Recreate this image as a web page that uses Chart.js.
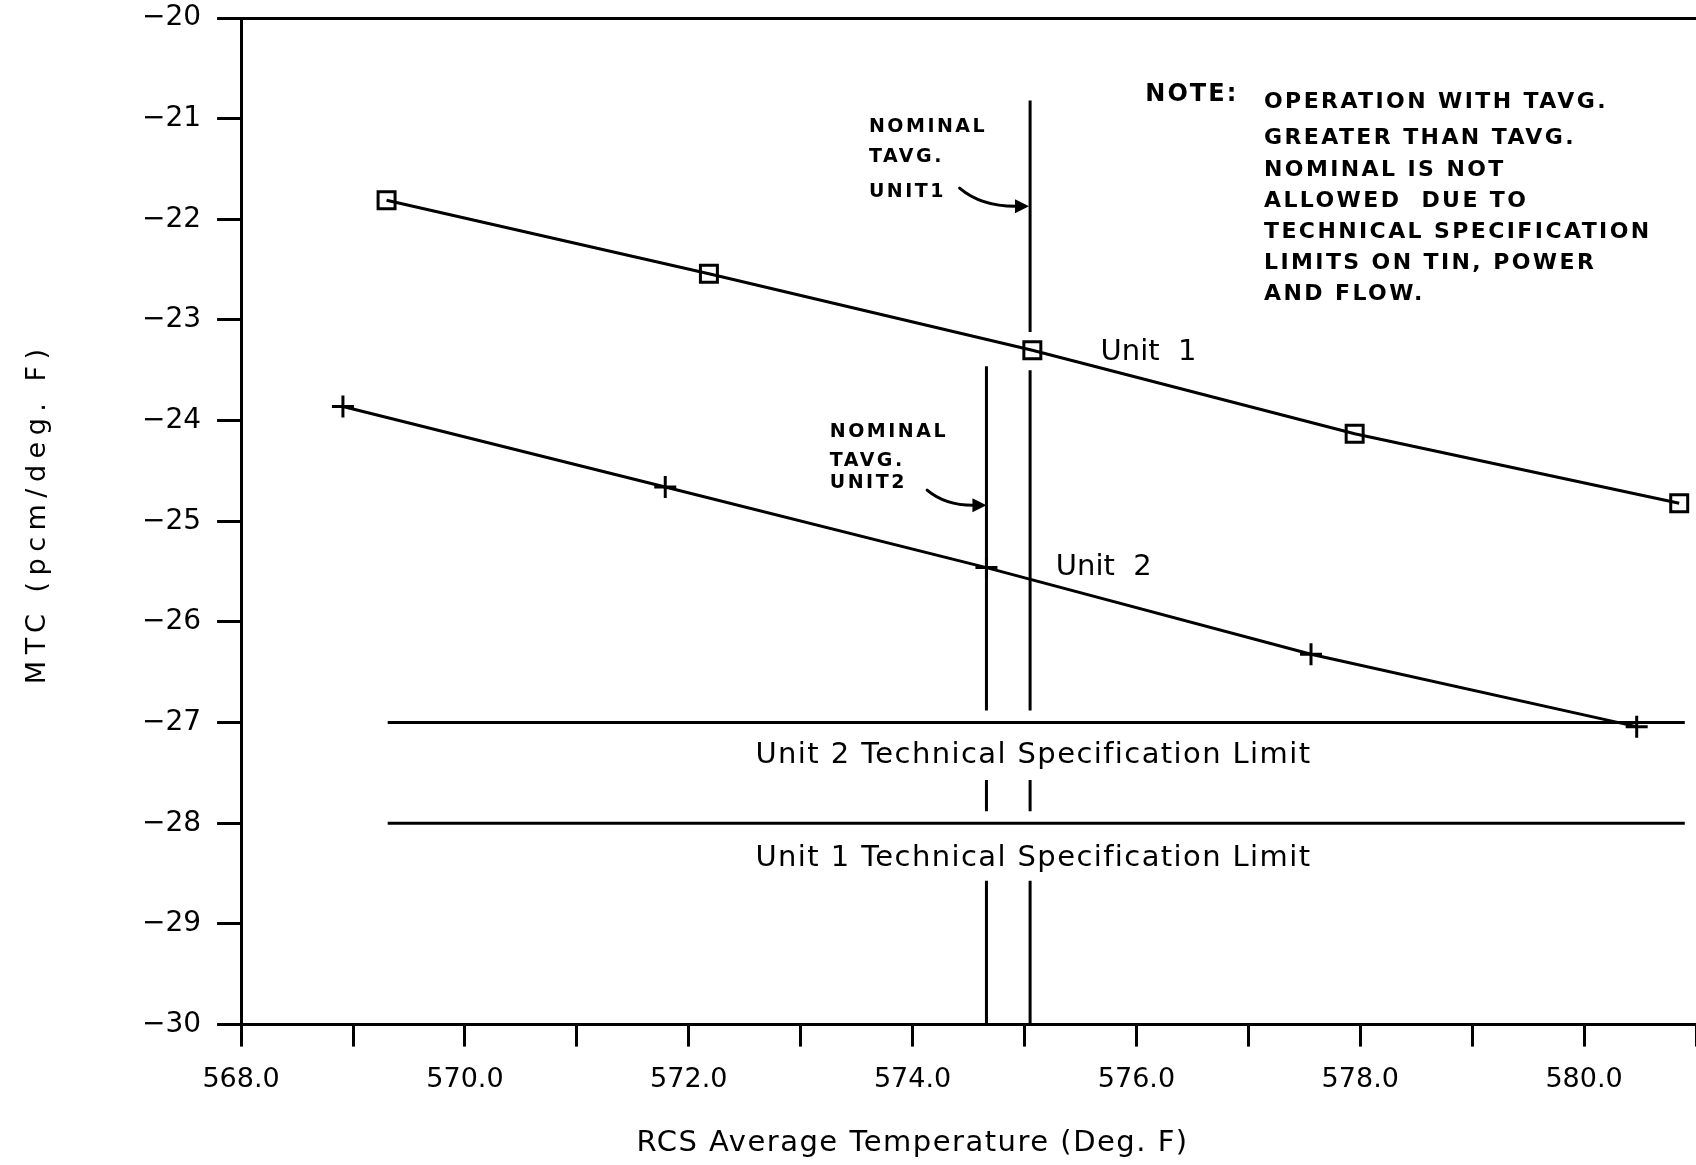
<!DOCTYPE html>
<html>
<head>
<meta charset="utf-8">
<title>MTC vs RCS Average Temperature</title>
<script src="https://cdn.jsdelivr.net/npm/chart.js@4.4.1/dist/chart.umd.min.js"></script>
<style>
  html, body { margin: 0; padding: 0; background: #fff; overflow: hidden; }
  #wrap { width: 1696px; height: 1165px; }
  canvas { display: block; }
</style>
</head>
<body>
<div id="wrap"><canvas id="mtc"></canvas></div>
<script>
// ========== DATA ==========
const unit1Temps = [569.30, 572.18, 575.07, 577.95, 580.85];
const unit1Mtc = [-21.81, -22.54, -23.30, -24.13, -24.82];
const unit2Temps = [568.91, 571.79, 574.66, 577.56, 580.47];
const unit2Mtc = [-23.86, -24.66, -25.46, -26.32, -27.04];

// technical specification limits (horizontal lines)
const limitTemps = [569.31, 580.90];
const unit2Limit = -27;
const unit1Limit = -28;

// nominal Tavg verticals, drawn in pieces (gaps around marker and text)
const nominalTavg1 = 575.05;
const nominalTavg2 = 574.66;
const tavg1Segments = [[-20.82, -23.12], [-23.50, -26.88], [-27.57, -27.88], [-28.57, -30]];
const tavg2Segments = [[-23.46, -26.88], [-27.57, -27.88], [-28.57, -30]];

const xMin = 568, xMax = 581;
const yMin = -30, yMax = -20;
const xLabelled = [568, 570, 572, 574, 576, 578, 580];

const xTitle = 'RCS Average Temperature (Deg. F)';
const yTitle = 'MTC (pcm/deg. F)';

// text placed in data coordinates
const curveLabels = [
  { text: 'Unit  1', x: 575.68, y: -23.32 },
  { text: 'Unit  2', x: 575.28, y: -25.46 }
];
const limitLabels = [
  { text: 'Unit 2 Technical Specification Limit', x: 575.08, y: -27.33 },
  { text: 'Unit 1 Technical Specification Limit', x: 575.08, y: -28.35 }
];
const handNotes = [
  { lines: ['NOMINAL', 'TAVG.', 'UNIT1'], x: 573.61, y: [-21.08, -21.38, -21.73] },
  { lines: ['NOMINAL', 'TAVG.', 'UNIT2'], x: 573.26, y: [-24.11, -24.40, -24.62] }
];
const arrows = [
  { from: [574.42, -21.69], ctrl: [574.62, -21.88], to: [575.04, -21.87] },
  { from: [574.13, -24.69], ctrl: [574.30, -24.85], to: [574.66, -24.84] }
];
const noteHead = { text: 'NOTE:', x: 576.08, y: -20.76 };
const noteLines = [
  'OPERATION WITH TAVG.',
  'GREATER THAN TAVG.',
  'NOMINAL IS NOT',
  'ALLOWED  DUE TO',
  'TECHNICAL SPECIFICATION',
  'LIMITS ON TIN, POWER',
  'AND FLOW.'
];
const noteX = 577.14;
const noteY = [-20.84, -21.19, -21.51, -21.82, -22.13, -22.44, -22.74];

// ========== HELPERS ==========
function pairs(xs, ys) {
  return xs.map((x, i) => ({ x: x, y: ys[i] }));
}

function segmentsAt(x, segs) {
  const out = [];
  segs.forEach(s => {
    out.push({ x: x, y: s[0] }, { x: x, y: s[1] }, { x: x, y: null });
  });
  return out;
}

function lineSet(data) {
  return {
    data: data,
    borderColor: '#000',
    borderWidth: 3,
    pointRadius: 0,
    tension: 0,
    spanGaps: false
  };
}

// ========== TEXT PLUGIN ==========
const annotate = {
  id: 'annotate',
  afterDatasetsDraw(chart) {
    const { ctx, scales: { x, y } } = chart;
    const px = v => x.getPixelForValue(v);
    const py = v => y.getPixelForValue(v);
    ctx.save();
    ctx.fillStyle = '#000';
    ctx.strokeStyle = '#000';
    ctx.textBaseline = 'middle';

    ctx.font = "29px 'DejaVu Sans'";
    ctx.letterSpacing = '0px';
    ctx.textAlign = 'left';
    curveLabels.forEach(l => ctx.fillText(l.text, px(l.x), py(l.y)));
    ctx.letterSpacing = '1.4px';
    ctx.textAlign = 'center';
    limitLabels.forEach(l => ctx.fillText(l.text, px(l.x), py(l.y)));

    // handwritten bits
    ctx.textAlign = 'left';
    ctx.font = "bold 19px 'DejaVu Sans'";
    ctx.letterSpacing = '2.5px';
    handNotes.forEach(n => {
      n.lines.forEach((t, i) => ctx.fillText(t, px(n.x), py(n.y[i])));
    });

    ctx.lineWidth = 3;
    ctx.lineCap = 'round';
    arrows.forEach(a => {
      const fx = px(a.from[0]), fy = py(a.from[1]);
      const cx = px(a.ctrl[0]), cy = py(a.ctrl[1]);
      const tx = px(a.to[0]), ty = py(a.to[1]);
      ctx.beginPath();
      ctx.moveTo(fx, fy);
      ctx.quadraticCurveTo(cx, cy, tx - 10, ty);
      ctx.stroke();
      ctx.beginPath();
      ctx.moveTo(tx, ty);
      ctx.lineTo(tx - 14, ty - 7);
      ctx.lineTo(tx - 14, ty + 7);
      ctx.closePath();
      ctx.fill();
    });

    ctx.font = "bold 24px 'DejaVu Sans'";
    ctx.letterSpacing = '2px';
    ctx.fillText(noteHead.text, px(noteHead.x), py(noteHead.y));
    ctx.font = "bold 22px 'DejaVu Sans'";
    ctx.letterSpacing = '2.4px';
    noteLines.forEach((t, i) => ctx.fillText(t, px(noteX), py(noteY[i])));

    // axis titles
    ctx.font = "29px 'DejaVu Sans'";
    ctx.letterSpacing = '1.5px';
    ctx.textAlign = 'center';
    ctx.fillText(xTitle, px((xLabelled[0] + xLabelled[xLabelled.length - 1]) / 2), x.bottom + 30);

    ctx.font = "27px 'DejaVu Sans'";
    ctx.letterSpacing = '6.5px';
    ctx.translate(y.left - 88, (chart.chartArea.top + chart.chartArea.bottom) / 2 - 8);
    ctx.rotate(-Math.PI / 2);
    ctx.fillText(yTitle, 0, 0);
    ctx.restore();
  }
};

// ========== CHART ==========
Chart.defaults.font.family = "'DejaVu Sans', sans-serif";
Chart.defaults.color = '#000';

new Chart(document.getElementById('mtc'), {
  type: 'line',
  data: {
    datasets: [
      {
        label: 'Unit 1',
        data: pairs(unit1Temps, unit1Mtc),
        borderColor: '#000',
        borderWidth: 3,
        tension: 0,
        pointStyle: 'rect',
        pointRadius: 12,
        pointBorderWidth: 3,
        pointBorderColor: '#000',
        pointBackgroundColor: 'rgba(0,0,0,0)'
      },
      {
        label: 'Unit 2',
        data: pairs(unit2Temps, unit2Mtc),
        borderColor: '#000',
        borderWidth: 3,
        tension: 0,
        pointStyle: 'cross',
        pointRadius: 11,
        pointBorderWidth: 3,
        pointBorderColor: '#000'
      },
      lineSet(pairs(limitTemps, [unit2Limit, unit2Limit])),
      lineSet(pairs(limitTemps, [unit1Limit, unit1Limit])),
      lineSet(segmentsAt(nominalTavg1, tavg1Segments)),
      lineSet(segmentsAt(nominalTavg2, tavg2Segments))
    ]
  },
  options: {
    responsive: true,
    maintainAspectRatio: false,
    animation: false,
    layout: { autoPadding: false, padding: { left: 126, right: 0, top: 18, bottom: 52 } },
    plugins: {
      legend: { display: false },
      tooltip: { enabled: false }
    },
    scales: {
      x: {
        type: 'linear',
        min: xMin,
        max: xMax,
        afterFit: s => { s.paddingRight = 0; },
        border: { color: '#000', width: 3 },
        grid: { drawOnChartArea: false, tickLength: 22, tickWidth: 3, tickColor: '#000' },
        ticks: {
          stepSize: 1,
          autoSkip: false,
          maxRotation: 0,
          padding: 17,
          font: { size: 27 },
          callback: v => xLabelled.includes(v) ? v.toFixed(1) : ''
        }
      },
      y: {
        type: 'linear',
        min: yMin,
        max: yMax,
        afterFit: s => { s.paddingTop = 0; s.paddingBottom = 0; },
        border: { color: '#000', width: 3 },
        grid: {
          color: c => (c.tick && c.tick.value === yMax) ? '#000' : 'rgba(0,0,0,0)',
          lineWidth: 3,
          tickLength: 24,
          tickWidth: 3,
          tickColor: '#000'
        },
        ticks: {
          stepSize: 1,
          padding: 16,
          font: { size: 28 },
          callback: v => '\u2212' + Math.abs(v)
        }
      }
    }
  },
  plugins: [annotate]
});
</script>
</body>
</html>
